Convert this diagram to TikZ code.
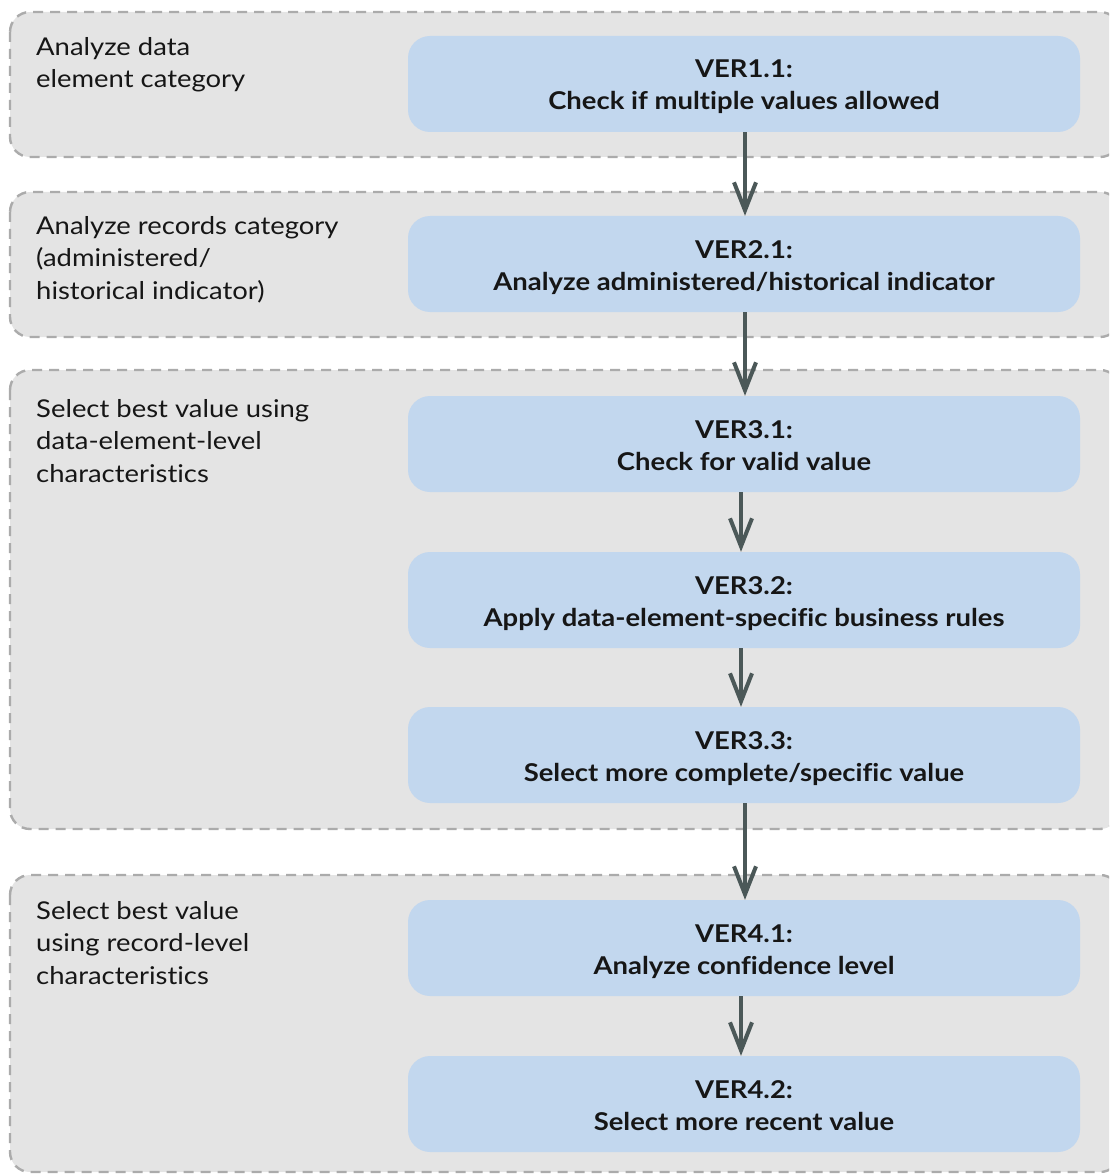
\documentclass[tikz,border=0pt]{standalone}
\usepackage{fontspec}
\setmainfont{Lato}[FakeStretch=1.12, Ligatures=NoCommon]
\usetikzlibrary{arrows.meta}
\definecolor{panelfill}{HTML}{E4E4E4}
\definecolor{paneledge}{HTML}{ABABAB}
\definecolor{stepfill}{HTML}{C2D7EE}
\definecolor{flowline}{HTML}{4B5858}
\definecolor{ink}{HTML}{161616}
% struts that balance the two-line step labels inside their boxes
\newcommand\headstrut{\rule{0pt}{29.6pt}}
\newcommand\footstrut{\rule[-9.6pt]{0pt}{9.6pt}}
\tikzset{
  panel/.style={fill=panelfill, draw=paneledge, line width=2.4pt,
    dash pattern=on 10pt off 7pt, rounded corners=20pt},
  stepbox/.style={fill=stepfill, draw=none, rounded corners=22pt,
    minimum width=672pt, minimum height=96pt, inner sep=0pt,
    align=center, text=ink, font=\fontsize{24.5}{32}\selectfont\bfseries},
  phase/.style={anchor=base west, align=left, text=ink, inner sep=0pt,
    font=\fontsize{24.5}{32.3}\selectfont},
  flow/.style={draw=flowline, line width=4pt,
    -{Straight Barb[length=28pt, width=22pt, line width=4pt]}}
}
\begin{document}
\begin{tikzpicture}[x=1pt, y=-1pt]
  \useasboundingbox (0,0) rectangle (1109,1174);
  \clip (0,0) rectangle (1109,1174);

  % phase panels
  \path[panel] (10,12)  rectangle (1120,157);
  \path[panel] (10,192) rectangle (1120,337);
  \path[panel] (10,370) rectangle (1120,829);
  \path[panel] (10,875) rectangle (1120,1172);

  % phase captions (anchored on the baseline of their last line)
  \node[phase] (l1) at (36,88)  {Analyze data\\element category};
  \node[phase] (l2) at (36,299) {Analyze records category\\(administered/\\historical indicator)};
  \node[phase] (l3) at (36,482) {Select best value using\\data-element-level\\characteristics};
  \node[phase] (l4) at (36,984) {Select best value\\using record-level\\characteristics};

  % verification steps
  \node[stepbox] (v11) at (744,84)   {\headstrut VER1.1:\\Check if multiple values allowed\footstrut};
  \node[stepbox] (v21) at (744,264)  {\headstrut VER2.1:\\Analyze administered/historical indicator\footstrut};
  \node[stepbox] (v31) at (744,444)  {\headstrut VER3.1:\\Check for valid value\footstrut};
  \node[stepbox] (v32) at (744,600)  {\headstrut VER3.2:\\Apply data-element-specific business rules\footstrut};
  \node[stepbox] (v33) at (744,755)  {\headstrut VER3.3:\\Select more complete/specific value\footstrut};
  \node[stepbox] (v41) at (744,948)  {\headstrut VER4.1:\\Analyze confidence level\footstrut};
  \node[stepbox] (v42) at (744,1104) {\headstrut VER4.2:\\Select more recent value\footstrut};

  % connectors
  \draw[flow] ([xshift=1pt]v11.south) -- ([xshift=1pt]v21.north);
  \draw[flow] ([xshift=1pt]v21.south) -- ([xshift=1pt]v31.north);
  \draw[flow] ([xshift=-3pt]v31.south) -- ([xshift=-3pt]v32.north);
  \draw[flow] ([xshift=-3pt]v32.south) -- ([xshift=-3pt]v33.north);
  \draw[flow] ([xshift=1pt]v33.south) -- ([xshift=1pt]v41.north);
  \draw[flow] ([xshift=-3pt]v41.south) -- ([xshift=-3pt]v42.north);
\end{tikzpicture}
\end{document}
